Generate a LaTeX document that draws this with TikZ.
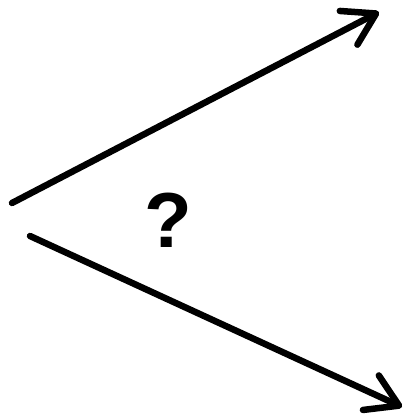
\documentclass[tikz,border=0pt]{standalone}
\usepackage{fontspec}
\setmainfont{Liberation Sans}
\usetikzlibrary{arrows.meta}
\begin{document}
\begin{tikzpicture}[x=1pt,y=-1pt,
  arr/.style={line width=6.5pt,line cap=round,-{Straight Barb[length=31pt,width=38pt,line cap=round,line join=round]}}]
\useasboundingbox (0,0) rectangle (405,415);
\coordinate (s1) at (12,203);
\coordinate (t1) at (379,12);
\coordinate (s2) at (30,236);
\coordinate (t2) at (402,407);
\draw[arr] (s1) -- (t1);
\draw[arr] (s2) -- (t2);
\node[font=\fontsize{78}{80}\selectfont\bfseries,inner sep=0pt] (q) at (168,220) {?};
\end{tikzpicture}
\end{document}
